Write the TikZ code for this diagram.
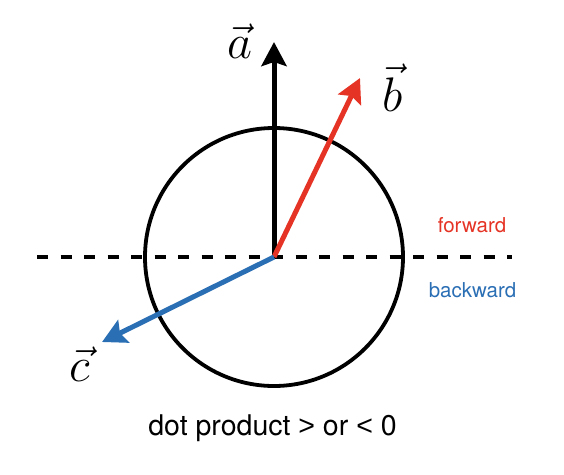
\documentclass[tikz,border=0pt]{standalone}
\usepackage{fontspec}
\setsansfont{TeX Gyre Heros}
\newfontfamily\relfont{Liberation Sans}
\usetikzlibrary{arrows.meta}
\definecolor{fwdred}{RGB}{229,52,37}
\definecolor{bwdblue}{RGB}{42,110,180}
\begin{document}
\begin{tikzpicture}[x=1pt,y=-1pt,
  vecarrow/.style={line width=5pt,-{Stealth[length=24pt,width=25pt,inset=4pt]}},
  veclabel/.style={font=\Huge,scale=1.95,inner sep=0pt},
  sidelabel/.style={font=\sffamily\fontsize{20.5}{24}\selectfont,anchor=base},
  caption/.style={font=\sffamily\fontsize{28.5}{32}\selectfont,anchor=base}]
  \useasboundingbox (0,0) rectangle (564,474);
  % origin and tips
  \coordinate (o) at (274,257);
  \coordinate (ta) at (274,42);
  \coordinate (tb) at (360,78);
  \coordinate (tc) at (102,342);
  \coordinate (dl) at (37,257);
  \coordinate (dr) at (512,257);
  % unit circle
  \draw[line width=3.8pt] (o) circle (129);
  % dividing line
  \draw[line width=4.5pt,dash pattern=on 11pt off 12.5pt] (dl) -- (dr);
  % vectors
  \draw[vecarrow,black] (o) -- (ta);
  \draw[vecarrow,fwdred] (o) -- (tb);
  \draw[vecarrow,bwdblue] (o) -- (tc);
  % labels
  \node[veclabel] (la) at (240,41) {$\vec{a}$};
  \node[veclabel] (lb) at (393,88) {$\vec{b}$};
  \node[veclabel] (lc) at (80,364) {$\vec{c}$};
  \node[sidelabel,text=fwdred] (fw) at (472,232.5) {forward};
  \node[sidelabel,text=bwdblue] (bw) at (472.5,297) {backward};
  \node[caption] (cap) at (272.5,435) {dot product {\relfont >} or {\relfont <} 0};
\end{tikzpicture}
\end{document}
